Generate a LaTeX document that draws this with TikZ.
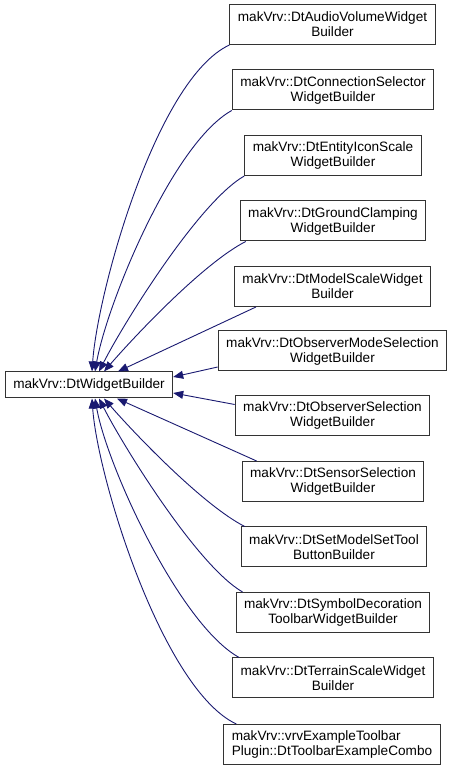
\documentclass[tikz,border=0pt]{standalone}
\usepackage{fontspec}
\setmainfont{Liberation Sans}
\usepackage{xcolor}
\usepackage{tikz}
\usetikzlibrary{arrows.meta}
\definecolor{edgeblue}{HTML}{191970}

\begin{document}
\begin{tikzpicture}[x=1pt,y=1pt,font=\fontsize{13.6}{15}\selectfont]
        \tikzstyle{classbox}=[draw=black!80,line width=1pt,fill=white,align=center,inner xsep=8pt,inner ysep=6pt,minimum height=40pt]
        \tikzstyle{inherit}=[color=edgeblue,line width=0.9pt,-{Triangle[length=10pt,width=8pt]}]
        \useasboundingbox (0,0) rectangle (451,769);
        \node[classbox,minimum height=26pt] (Base) at (89,384) {makVrv::DtWidgetBuilder};
        \node[classbox] (Audio) at (332.5,744.5) {makVrv::DtAudioVolumeWidget\\Builder};
        \node[classbox] (Conn) at (333,679) {makVrv::DtConnectionSelector\\WidgetBuilder};
        \node[classbox] (Entity) at (333,613.5) {makVrv::DtEntityIconScale\\WidgetBuilder};
        \node[classbox] (Ground) at (333,548) {makVrv::DtGroundClamping\\WidgetBuilder};
        \node[classbox] (Model) at (332.5,482.5) {makVrv::DtModelScaleWidget\\Builder};
        \node[classbox] (ObsMode) at (332.5,418) {makVrv::DtObserverModeSelection\\WidgetBuilder};
        \node[classbox] (ObsSel) at (332.5,353.5) {makVrv::DtObserverSelection\\WidgetBuilder};
        \node[classbox] (Sensor) at (333,287.5) {makVrv::DtSensorSelection\\WidgetBuilder};
        \node[classbox] (SetModel) at (334,222) {makVrv::DtSetModelSetTool\\ButtonBuilder};
        \node[classbox] (Symbol) at (333,156.5) {makVrv::DtSymbolDecoration\\ToolbarWidgetBuilder};
        \node[classbox] (Terrain) at (333,91) {makVrv::DtTerrainScaleWidget\\Builder};
        \node[classbox,align=left] (Vrv) at (332,24.5) {makVrv::vrvExampleToolbar\\Plugin::DtToolbarExampleCombo};
        \path[inherit]
        (Audio.south west) edge[out=205,in=86,looseness=0.58] ([xshift=3pt]Base.north)
        (Conn.south west) edge[out=209,in=80,looseness=0.59] ([xshift=6pt]Base.north)
        (Entity.south west) edge[out=210,in=63,looseness=0.56] ([xshift=10pt]Base.north)
        ([xshift=6pt]Ground.south west) edge[out=207,in=49,looseness=0.63] ([xshift=15pt]Base.north)
        ([xshift=22pt]Model.south west) edge ([xshift=29pt]Base.north)
        ([yshift=-16pt]ObsMode.west) edge ([yshift=8pt]Base.east)
        ([yshift=11pt]ObsSel.west) edge ([yshift=-8pt]Base.east)
        ([xshift=15pt]Sensor.north west) edge ([xshift=28pt]Base.south)
        ([xshift=4pt]SetModel.north west) edge[out=153,in=311,looseness=0.63] ([xshift=15pt]Base.south)
        ([xshift=7pt]Symbol.north west) edge[out=150,in=297,looseness=0.56] ([xshift=10pt]Base.south)
        ([xshift=7pt]Terrain.north west) edge[out=151,in=280,looseness=0.59] ([xshift=6pt]Base.south)
        ([xshift=13pt]Vrv.north west) edge[out=155,in=274,looseness=0.58] ([xshift=3pt]Base.south);
    \end{tikzpicture}
\end{document}
